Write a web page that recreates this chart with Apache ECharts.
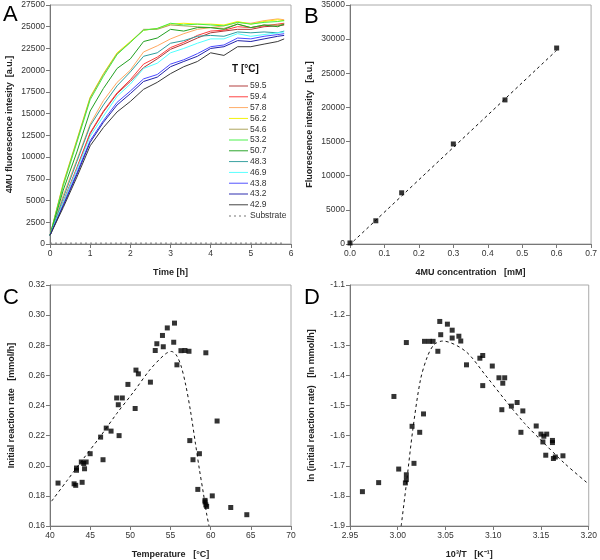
<!DOCTYPE html>
<html>
<head>
<meta charset="utf-8">
<title>4MU assay</title>
<script src="https://cdn.jsdelivr.net/npm/echarts@6/dist/echarts.min.js"></script>
<style>
  html, body { margin: 0; padding: 0; background: #fff; }
  #main { width: 600px; height: 560px; }
</style>
</head>
<body>
<div id="main"></div>
<script>
// ---- A: fluorescence vs time, one curve per temperature ----
const timeH = [0, 0.33, 0.67, 1, 1.33, 1.67, 2, 2.33, 2.67, 3, 3.33, 3.67, 4, 4.33, 4.67, 5, 5.33, 5.67, 5.83];
const tempNames = ['59.5', '59.4', '57.8', '56.2', '54.6', '53.2', '50.7', '48.3', '46.9', '43.8', '43.2', '42.9'];
const tempColors = ['#b03535', '#ff3b3b', '#ffa860', '#f2f200', '#aaa055', '#44f044', '#22a022', '#2f9c9c', '#50ffff', '#4a4aff', '#2222aa', '#3a3a3a'];
const c595 = [1000, 4800, 8700, 12700, 15200, 17300, 18700, 20300, 21300, 22400, 23000, 23700, 24300, 24500, 24700, 24700, 25000, 25100, 25200];
const c594 = [1000, 4900, 8800, 12800, 15300, 17400, 18900, 20700, 21500, 22600, 23200, 24000, 24500, 24600, 25000, 24900, 25100, 25300, 25400];
const c578 = [1000, 5600, 9700, 13800, 16500, 18600, 20000, 22100, 22800, 23600, 24200, 24700, 24900, 25100, 25500, 25400, 25700, 25900, 25800];
const c562 = [1000, 7000, 12000, 16900, 19600, 22000, 23300, 24600, 24800, 25300, 25400, 25300, 25300, 25200, 25600, 25300, 25600, 25800, 25700];
const c546 = [1000, 6900, 11900, 16800, 19500, 21900, 23200, 24700, 24700, 25200, 25100, 25000, 24900, 24800, 25300, 24900, 25200, 25200, 25300];
const c532 = [1000, 6700, 11700, 16600, 19300, 21800, 23200, 24600, 24800, 25400, 25200, 25300, 25200, 25100, 25500, 25300, 25500, 25600, 25700];
const c507 = [1000, 6200, 10600, 15300, 17900, 20200, 21300, 23300, 23700, 24700, 24500, 24900, 24900, 24700, 25300, 24900, 25200, 25000, 25300];
const c483 = [1000, 5300, 9500, 13600, 16000, 18200, 19800, 21600, 22000, 23100, 23400, 23900, 24000, 23900, 24400, 24300, 24400, 24300, 24500];
const c469 = [1000, 4800, 8600, 12400, 14700, 17000, 18400, 20200, 20800, 22000, 22500, 23100, 23600, 23600, 24200, 23900, 24100, 24300, 24400];
const c438 = [1000, 4500, 8200, 11900, 14200, 16300, 17600, 19000, 19500, 20700, 21200, 21900, 22700, 22900, 23700, 23600, 23900, 24100, 24200];
const c432 = [1000, 4400, 8000, 11700, 14000, 16000, 17300, 18700, 19200, 20400, 21000, 21600, 22500, 22700, 23400, 23300, 23600, 23900, 24000];
const c429 = [1000, 4200, 7700, 11300, 13400, 15200, 16400, 17800, 18600, 19600, 20400, 21000, 22000, 21700, 22700, 22700, 23000, 23300, 23600];
const substrate = [100, 100, 100, 100, 100, 100, 100, 100, 100, 100, 100, 100, 100, 100, 100, 100, 100, 100, 100];
const curvesA = [c595, c594, c578, c562, c546, c532, c507, c483, c469, c438, c432, c429];

// ---- B: calibration ----
const concB = [0, 0.075, 0.15, 0.3, 0.45, 0.6];
const fluoB = [150, 3400, 7500, 14650, 21100, 28700];
const fitBx = [0.01, 0.6];
const fitBy = [400, 28360];

// ---- C: rate vs temperature ----
const tempC = [41.0, 43.0, 43.2, 43.3, 43.3, 43.9, 44.0, 44.2, 44.3, 44.5, 45.0, 46.3, 46.6, 47.0, 47.6, 48.3,
  48.5, 48.6, 49.0, 49.7, 50.6, 50.7, 51.0, 52.5, 53.1, 53.3, 54.0, 54.1, 54.6, 55.4, 55.5, 55.8,
  56.3, 56.8, 57.3, 59.4, 57.4, 57.8, 58.6, 58.4, 59.3, 59.3, 59.4, 59.5, 60.2, 60.8, 62.5, 64.5];
const rateC = [0.1885, 0.188, 0.187, 0.197, 0.1985, 0.2025, 0.189, 0.2015, 0.198, 0.2025, 0.208, 0.219, 0.204, 0.225, 0.223, 0.245,
  0.2405, 0.220, 0.245, 0.254, 0.238, 0.2635, 0.261, 0.2555, 0.2765, 0.281, 0.2865, 0.279, 0.2915, 0.282, 0.2947, 0.267,
  0.2764, 0.2765, 0.276, 0.275, 0.2167, 0.204, 0.208, 0.1843, 0.177, 0.176, 0.174, 0.173, 0.180, 0.2297, 0.1723, 0.1675];
const fitCx = [40.2, 42.1, 44.1, 46.2, 48.3, 50.4, 52.4, 53.7, 54.5, 55.1, 55.7, 56.3, 56.9, 57.5, 58.1, 58.6, 59.1, 59.5, 59.8];
const fitCy = [0.1765, 0.190, 0.2043, 0.219, 0.2346, 0.249, 0.2635, 0.271, 0.2747, 0.2759, 0.2737, 0.2665, 0.2535, 0.236, 0.2150, 0.1975, 0.1815, 0.168, 0.160];

// ---- D: Arrhenius plot ----
const invTD = [2.963, 2.980, 2.996, 3.001, 3.008, 3.009, 3.009, 3.009, 3.015, 3.017, 3.023, 3.027, 3.028, 3.033, 3.037, 3.042,
  3.044, 3.045, 3.052, 3.057, 3.057, 3.064, 3.066, 3.072, 3.086, 3.089, 3.089, 3.099, 3.106, 3.109, 3.110, 3.112,
  3.119, 3.125, 3.131, 3.129, 3.145, 3.150, 3.152, 3.153, 3.156, 3.155, 3.162, 3.162, 3.163, 3.165, 3.173];
const lnRateD = [-1.786, -1.756, -1.470, -1.711, -1.757, -1.746, -1.730, -1.291, -1.569, -1.692, -1.589, -1.528, -1.287, -1.287, -1.287, -1.320,
  -1.221, -1.265, -1.230, -1.250, -1.276, -1.270, -1.286, -1.365, -1.343, -1.334, -1.434, -1.369, -1.408, -1.514, -1.426, -1.408,
  -1.502, -1.490, -1.518, -1.589, -1.568, -1.595, -1.621, -1.602, -1.595, -1.665, -1.616, -1.623, -1.676, -1.671, -1.667];
const fitDx = [3.0036, 3.0095, 3.0157, 3.0237, 3.031, 3.038, 3.047, 3.071, 3.092, 3.1125, 3.133, 3.15, 3.175, 3.20];
const fitDy = [-1.9, -1.748, -1.582, -1.416, -1.338, -1.298, -1.286, -1.32, -1.40, -1.482, -1.56, -1.615, -1.693, -1.761];

function pairs(xs, ys) {
  return xs.map((x, i) => [x, ys[i]]);
}

// 坐标轴，外框灰色，刻度朝外
function valueAxis(gridIndex, min, max, interval, name, gap, digits) {
  return {
    type: 'value',
    gridIndex: gridIndex,
    min: min,
    max: max,
    interval: interval,
    name: name,
    nameLocation: 'middle',
    nameGap: gap,
    nameTextStyle: { fontWeight: 'bold', fontSize: 9, color: '#222', fontFamily: 'Liberation Sans' },
    axisLine: { show: true, onZero: false, lineStyle: { color: '#777' } },
    axisTick: { show: true, length: 4, lineStyle: { color: '#777' } },
    axisLabel: {
      fontSize: 8.5,
      color: '#333',
      margin: 5,
      fontFamily: 'Liberation Sans',
      formatter: v => digits == null ? String(Math.round(v)) : v.toFixed(digits)
    },
    splitLine: { show: false }
  };
}

function fitLine(xi, data) {
  return {
    type: 'line',
    xAxisIndex: xi,
    yAxisIndex: xi,
    data: data,
    symbol: 'none',
    smooth: 0.3,
    lineStyle: { color: '#111', width: 1, type: [3, 3] },
    z: 1
  };
}

function squares(xi, data) {
  return {
    type: 'scatter',
    xAxisIndex: xi,
    yAxisIndex: xi,
    data: data,
    symbol: 'rect',
    symbolSize: 5,
    itemStyle: { color: '#000' },
    z: 2
  };
}

const seriesA = curvesA.map((vals, i) => ({
  name: tempNames[i],
  type: 'line',
  xAxisIndex: 0,
  yAxisIndex: 0,
  data: pairs(timeH, vals),
  symbol: 'none',
  lineStyle: { color: tempColors[i], width: 1 },
  itemStyle: { color: tempColors[i] }
}));
seriesA.push({
  name: 'Substrate',
  type: 'line',
  xAxisIndex: 0,
  yAxisIndex: 0,
  data: pairs(timeH, substrate),
  symbol: 'none',
  lineStyle: { color: '#777', width: 1, type: [2, 3] },
  itemStyle: { color: '#777' }
});

const chart = echarts.init(document.getElementById('main'));
const gridStyle = { show: true, borderColor: '#aaa', borderWidth: 1, containLabel: false };
const letter = (txt, x, y) => ({
  type: 'text', left: x, top: y,
  style: { text: txt, fontSize: 22, fontFamily: 'Liberation Sans', fill: '#000' }
});

// legend icons: plain thin line, dashed one for substrate
const solidIcon = 'path://M0,0L20,0L20,1L0,1Z';
const dashIcon = 'path://M0,0h2v1h-2zM5,0h2v1h-2zM10,0h2v1h-2zM15,0h2v1h-2z';

chart.setOption({
  animation: false,
  backgroundColor: '#fff',
  textStyle: { fontFamily: 'Liberation Sans' },
  grid: [
    Object.assign({ left: 50, top: 5, width: 241, height: 239 }, gridStyle),
    Object.assign({ left: 350, top: 5, width: 242, height: 239 }, gridStyle),
    Object.assign({ left: 50, top: 285, width: 241, height: 241 }, gridStyle),
    Object.assign({ left: 350, top: 285, width: 242, height: 241 }, gridStyle)
  ],
  xAxis: [
    valueAxis(0, 0, 6, 1, 'Time [h]', 24),
    valueAxis(1, 0, 0.7, 0.1, '4MU concentration   [mM]', 24, 1),
    valueAxis(2, 40, 70, 5, 'Temperature   [°C]', 24),
    valueAxis(3, 2.95, 3.20, 0.05, '10³/T   [K⁻¹]', 24, 2)
  ],
  yAxis: [
    valueAxis(0, 0, 27500, 2500, '4MU fluorescence intesity  [a.u.]', 36),
    valueAxis(1, 0, 35000, 5000, 'Fluorescence intensity   [a.u.]', 36),
    valueAxis(2, 0.16, 0.32, 0.02, 'Initial reaction rate   [mmol/h]', 34, 2),
    valueAxis(3, -1.9, -1.1, 0.1, 'ln (initial reaction rate)   [ln mmol/h]', 34, 1)
  ],
  legend: [
    {
      data: tempNames.map(n => ({ name: n, icon: solidIcon })),
      orient: 'vertical',
      left: 224,
      top: 76,
      itemWidth: 19,
      itemHeight: 1.5,
      itemGap: 0.8,
      textStyle: { fontSize: 8.5, color: '#333', lineHeight: 10, padding: [0, 0, 0, -3] }
    },
    {
      data: [{ name: 'Substrate', icon: dashIcon }],
      orient: 'vertical',
      left: 224,
      top: 206,
      itemWidth: 17,
      itemHeight: 1.5,
      textStyle: { fontSize: 8.5, color: '#333', lineHeight: 10, padding: [0, 0, 0, -1] }
    }
  ],
  graphic: [
    letter('A', 3, 4),
    letter('B', 304, 6),
    letter('C', 3, 287),
    letter('D', 304, 287),
    {
      type: 'text', left: 232, top: 64,
      style: { text: 'T [°C]', fontSize: 10, fontWeight: 'bold', fontFamily: 'Liberation Sans', fill: '#111' }
    }
  ],
  series: seriesA.concat([
    fitLine(1, pairs(fitBx, fitBy)),
    squares(1, pairs(concB, fluoB)),
    fitLine(2, pairs(fitCx, fitCy)),
    squares(2, pairs(tempC, rateC)),
    fitLine(3, pairs(fitDx, fitDy)),
    squares(3, pairs(invTD, lnRateD))
  ])
});
</script>
</body>
</html>
